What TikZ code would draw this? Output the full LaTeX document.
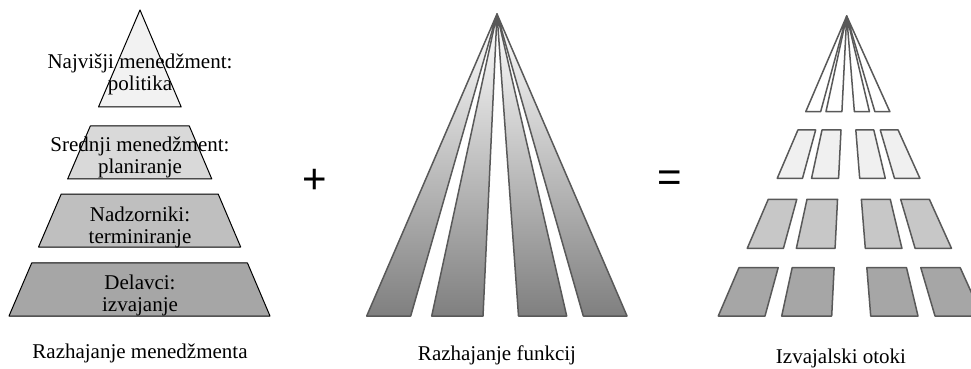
\documentclass[tikz,border=0pt]{standalone}
\usepackage{fontspec}
\setmainfont{Liberation Serif}
\newfontfamily\signfont{Liberation Sans}
\usetikzlibrary{calc}

\tikzset{
  layer/.style={draw=black, line width=1pt, line join=round},
  strip/.style={draw=black!65, line width=1.5pt, line join=round},
  lbl/.style={font=\fontsize{21}{22}\selectfont, align=center, inner sep=0pt},
  sign/.style={font=\signfont\fontsize{42}{42}\selectfont, inner sep=0pt},
}

\begin{document}
\begin{tikzpicture}[x=1pt, y=-1pt]
  \useasboundingbox (0,0) rectangle (971,369);

  % Left: management pyramid
  \coordinate (P) at (140,10);
  \coordinate (PL) at (9,316);
  \coordinate (PR) at (270,316);
  \foreach \ya/\yb/\shade in {10/107/5, 126/179/15, 194/247/25, 263/316/35} {
    \pgfmathsetmacro\ta{(\ya-10)/306}
    \pgfmathsetmacro\tb{(\yb-10)/306}
    \filldraw[layer, fill=black!\shade] ($(P)!\ta!(PL)$) -- ($(P)!\ta!(PR)$)
      -- ($(P)!\tb!(PR)$) -- ($(P)!\tb!(PL)$) -- cycle;
  }
  \node[lbl] (top) at (140,74.5) {Najvišji menedžment:\\politika};
  \node[lbl] (mid) at (140,157) {Srednji menedžment:\\planiranje};
  \node[lbl] (sup) at (140,227) {Nadzorniki:\\terminiranje};
  \node[lbl] (wrk) at (140,295) {Delavci:\\izvajanje};
  \node[lbl, anchor=base] (mgmt) at (140,358) {Razhajanje menedžmenta};

  \node[sign] (plus) at (314.5,181) {+};

  % Middle: function fan
  \coordinate (F) at (497,14);
  \foreach \bl/\br in {366.7/410.7, 431.7/483, 518.5/566.7, 583.3/627} {
    \draw[strip, top color=white, bottom color=black!50] (F) -- (\bl,316) -- (\br,316) -- cycle;
  }
  \node[lbl, anchor=base] (fun) at (497,360) {Razhajanje funkcij};

  \node[sign] (eq) at (669.5,181) {=};

  % Right: islands
  \coordinate (I) at (846.7,16);
  \begin{scope}
    \clip (0,0) rectangle (971,369);
    \foreach \ya/\yb/\shade in {16/111.7/0, 130/178.3/6, 199.3/248.3/22, 267.7/316/35} {
      \pgfmathsetmacro\ta{(\ya-16)/300}
      \pgfmathsetmacro\tb{(\yb-16)/300}
      \foreach \bl/\br in {718.3/765, 781.7/831.7, 870.7/918, 935/982} {
        \filldraw[strip, fill=black!\shade] ($(I)!\ta!(\bl,316)$) -- ($(I)!\ta!(\br,316)$)
          -- ($(I)!\tb!(\br,316)$) -- ($(I)!\tb!(\bl,316)$) -- cycle;
      }
    }
  \end{scope}
  \node[lbl, anchor=base] (isl) at (841,363.5) {Izvajalski otoki};
\end{tikzpicture}
\end{document}
